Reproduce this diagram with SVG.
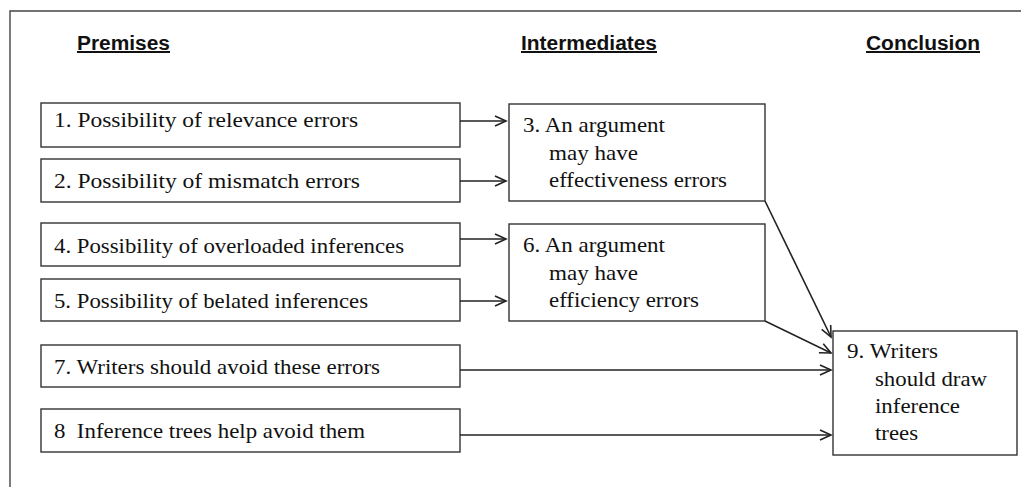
<svg xmlns="http://www.w3.org/2000/svg" width="1021" height="487" viewBox="0 0 1021 487">
<defs>
<marker id="arr" markerWidth="14" markerHeight="12" refX="12" refY="6" orient="auto" markerUnits="userSpaceOnUse">
<path d="M1,1 L12,6 L1,11" fill="none" stroke="#222" stroke-width="1.6"/>
</marker>
<style>
.box{fill:#fff;stroke:#333;stroke-width:1.4}
.t{font-family:"Liberation Serif","Times New Roman",serif;font-size:21.5px;fill:#111}
.h{font-family:"Liberation Sans",Arial,sans-serif;font-size:20px;font-weight:bold;fill:#111;text-decoration:underline}
.c{stroke:#222;stroke-width:1.6;fill:none;marker-end:url(#arr)}
</style>
</defs>
<rect width="1021" height="487" fill="#fff"/>
<path d="M10,487 L10,11 L1021,11" fill="none" stroke="#444" stroke-width="1.4"/>
<g id="headers">
<text class="h" x="77" y="50" textLength="93" lengthAdjust="spacingAndGlyphs">Premises</text>
<text class="h" x="521" y="50" textLength="136" lengthAdjust="spacingAndGlyphs">Intermediates</text>
<text class="h" x="866" y="50" textLength="114" lengthAdjust="spacingAndGlyphs">Conclusion</text>
</g>
<g id="n1"><rect class="box" x="41" y="103" width="419" height="44"/><text class="t" x="54" y="127" textLength="304" lengthAdjust="spacingAndGlyphs">1. Possibility of relevance errors</text></g>
<g id="n2"><rect class="box" x="41" y="159" width="419" height="43"/><text class="t" x="54" y="188" textLength="306" lengthAdjust="spacingAndGlyphs">2. Possibility of mismatch errors</text></g>
<g id="n4"><rect class="box" x="41" y="223" width="419" height="43"/><text class="t" x="54" y="253" textLength="350" lengthAdjust="spacingAndGlyphs">4. Possibility of overloaded inferences</text></g>
<g id="n5"><rect class="box" x="41" y="279" width="419" height="42"/><text class="t" x="54" y="308" textLength="314" lengthAdjust="spacingAndGlyphs">5. Possibility of belated inferences</text></g>
<g id="n7"><rect class="box" x="41" y="345" width="419" height="42"/><text class="t" x="54" y="374" textLength="326" lengthAdjust="spacingAndGlyphs">7. Writers should avoid these errors</text></g>
<g id="n8"><rect class="box" x="41" y="409" width="419" height="43"/><text class="t" x="54" y="438" textLength="311" lengthAdjust="spacingAndGlyphs" xml:space="preserve">8  Inference trees help avoid them</text></g>
<g id="n3"><rect class="box" x="509" y="104" width="256" height="97"/>
<text class="t" x="523" y="132" textLength="142" lengthAdjust="spacingAndGlyphs">3. An argument</text>
<text class="t" x="549" y="160" textLength="89" lengthAdjust="spacingAndGlyphs">may have</text>
<text class="t" x="549" y="187" textLength="178" lengthAdjust="spacingAndGlyphs">effectiveness errors</text></g>
<g id="n6"><rect class="box" x="509" y="224" width="256" height="97"/>
<text class="t" x="523" y="252" textLength="142" lengthAdjust="spacingAndGlyphs">6. An argument</text>
<text class="t" x="549" y="280" textLength="89" lengthAdjust="spacingAndGlyphs">may have</text>
<text class="t" x="549" y="307" textLength="150" lengthAdjust="spacingAndGlyphs">efficiency errors</text></g>
<g id="n9"><rect class="box" x="833" y="331" width="184" height="124"/>
<text class="t" x="847" y="358" textLength="91" lengthAdjust="spacingAndGlyphs">9. Writers</text>
<text class="t" x="875" y="386" textLength="112" lengthAdjust="spacingAndGlyphs">should draw</text>
<text class="t" x="875" y="413" textLength="85" lengthAdjust="spacingAndGlyphs">inference</text>
<text class="t" x="875" y="440" textLength="43" lengthAdjust="spacingAndGlyphs">trees</text></g>
<g id="connectors">
<line class="c" x1="460" y1="121" x2="506" y2="121"/>
<line class="c" x1="460" y1="181" x2="506" y2="181"/>
<line class="c" x1="460" y1="239" x2="506" y2="239"/>
<line class="c" x1="460" y1="301" x2="506" y2="301"/>
<line class="c" x1="765" y1="201" x2="831" y2="337"/>
<line class="c" x1="765" y1="321" x2="831" y2="353"/>
<line class="c" x1="460" y1="370" x2="831" y2="370"/>
<line class="c" x1="460" y1="435" x2="831" y2="435"/>
</g>
</svg>
